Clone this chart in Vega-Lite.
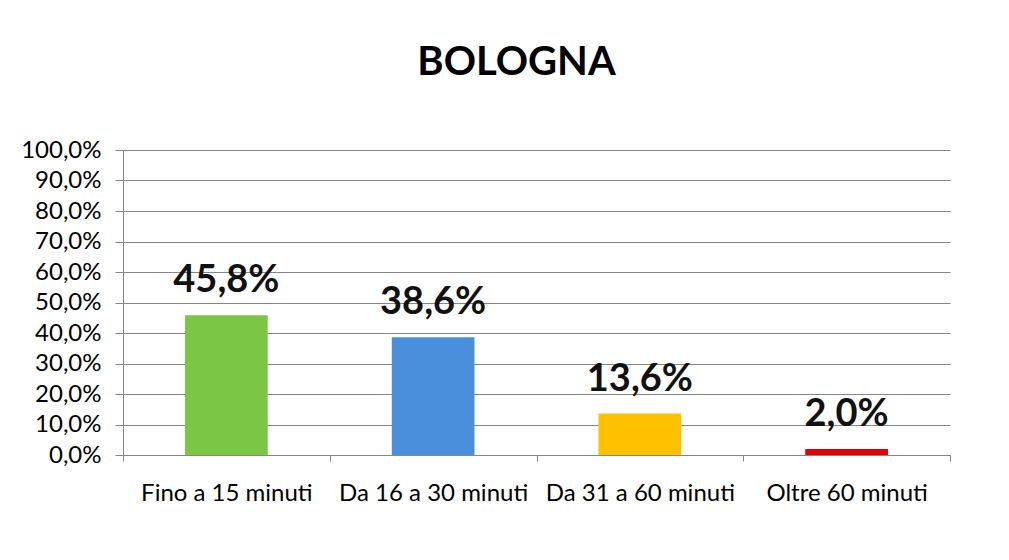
{
  "$schema": "https://vega.github.io/schema/vega-lite/v6.json",
  "width": 827,
  "height": 305,
  "autosize": "none",
  "padding": {"left": 123, "top": 150, "right": 59, "bottom": 105},
  "background": "white",
  "config": {
    "locale": {"number": {"decimal": ",", "thousands": ".", "grouping": [3], "currency": ["€", ""]}},
    "view": {"stroke": null},
    "font": "Lato"
  },
  "title": {
    "text": "BOLOGNA",
    "font": "Lato",
    "fontSize": 40,
    "fontWeight": "bold",
    "color": "#000000",
    "anchor": "middle",
    "dx": -20,
    "offset": 55
  },
  "data": {
    "values": [
      {"cat": "Fino a 15 minuti", "v": 0.458},
      {"cat": "Da 16 a 30 minuti", "v": 0.386},
      {"cat": "Da 31 a 60 minuti", "v": 0.136},
      {"cat": "Oltre 60 minuti", "v": 0.02}
    ]
  },
  "encoding": {
    "x": {
      "field": "cat",
      "type": "nominal",
      "sort": null,
      "scale": {"paddingInner": 0, "paddingOuter": 0},
      "axis": {
        "title": null,
        "labelAngle": 0,
        "labelFont": "Lato",
        "labelFontSize": 24,
        "labelColor": "#000000",
        "labelPadding": 20,
        "labelLimit": 400,
        "labelOverlap": false,
        "tickBand": "extent",
        "tickSize": 6,
        "tickColor": "#868686",
        "domainColor": "#868686",
        "grid": false
      }
    },
    "y": {
      "field": "v",
      "type": "quantitative",
      "scale": {"domain": [0, 1]},
      "axis": {
        "title": null,
        "format": ".1%",
        "values": [0, 0.1, 0.2, 0.3, 0.4, 0.5, 0.6, 0.7, 0.8, 0.9, 1],
        "labelFont": "Lato",
        "labelFontSize": 24,
        "labelColor": "#000000",
        "labelPadding": 14,
        "labelOverlap": false,
        "tickSize": 8,
        "tickColor": "#868686",
        "domainColor": "#868686",
        "grid": true,
        "gridColor": "#868686",
        "gridOpacity": 1
      }
    }
  },
  "layer": [
    {
      "mark": {"type": "bar", "width": {"band": 0.4}},
      "encoding": {
        "color": {
          "field": "cat",
          "type": "nominal",
          "sort": null,
          "scale": {"range": ["#7cc646", "#4a8fdb", "#ffc000", "#e20000"]},
          "legend": null
        }
      }
    },
    {
      "mark": {"type": "text", "font": "Lato", "fontSize": 38, "fontWeight": "bold", "baseline": "alphabetic", "dy": -23, "color": "#111111"},
      "encoding": {"text": {"field": "v", "type": "quantitative", "format": ".1%"}}
    }
  ]
}
